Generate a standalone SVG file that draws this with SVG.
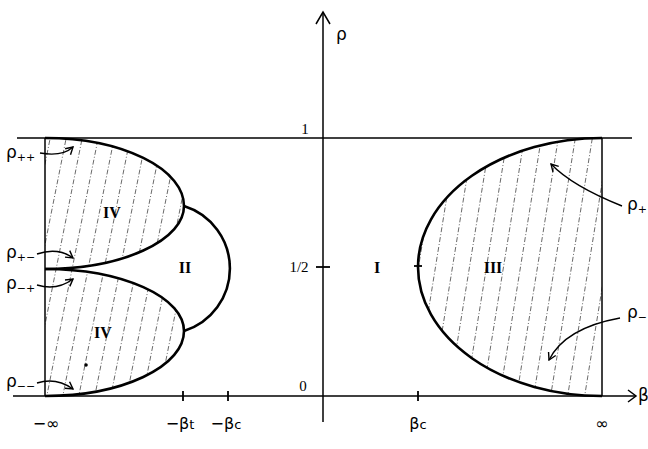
<svg xmlns="http://www.w3.org/2000/svg" width="648" height="449" viewBox="0 0 648 449">
<style>
.ax{stroke:#000;stroke-width:1.5;fill:none}
.cv{stroke:#000;stroke-width:2.6;fill:none}
.tk{stroke:#000;stroke-width:1.8}
.ht{stroke:#444;stroke-width:0.8;stroke-dasharray:5 2 1 2;fill:none}
.ar{stroke:#000;stroke-width:1.4;fill:none}
.rn{font-family:"Liberation Serif",serif;font-weight:bold;font-size:16px;text-anchor:middle}
.nm{font-family:"Liberation Serif",serif;font-size:15px;text-anchor:middle}
.gr{font-family:"DejaVu Sans",sans-serif;font-size:17px}
.sb{font-family:"DejaVu Sans",sans-serif;font-size:11px}
.bl{font-family:"DejaVu Sans",sans-serif;font-size:16px;text-anchor:middle}
</style>
<defs>
<marker id="oa" markerWidth="10" markerHeight="10" refX="9" refY="5" orient="auto" markerUnits="userSpaceOnUse">
<path d="M2,1 L9,5 L2,9" fill="none" stroke="#000" stroke-width="1.4"/>
</marker>
<clipPath id="clL">
<path d="M45,138 A139,68 0 0 1 184,206 A139,63 0 0 1 45,269 A139,62 0 0 1 184,331 A139,65 0 0 1 45,396 Z"/>
</clipPath>
<clipPath id="clR">
<path d="M602,138 A184,129 0 0 0 418,267 A184,129 0 0 0 602,396 Z"/>
</clipPath>
</defs>

<g id="hatching">
<g clip-path="url(#clL)" class="ht">
<line x1="-2" y1="400" x2="51" y2="134"/>
<line x1="14" y1="400" x2="67" y2="134"/>
<line x1="30" y1="400" x2="83" y2="134"/>
<line x1="46" y1="400" x2="99" y2="134"/>
<line x1="62" y1="400" x2="115" y2="134"/>
<line x1="78" y1="400" x2="131" y2="134"/>
<line x1="94" y1="400" x2="147" y2="134"/>
<line x1="110" y1="400" x2="163" y2="134"/>
<line x1="126" y1="400" x2="179" y2="134"/>
<line x1="142" y1="400" x2="195" y2="134"/>
<line x1="158" y1="400" x2="211" y2="134"/>
<line x1="174" y1="400" x2="227" y2="134"/>
</g>
<g clip-path="url(#clR)" class="ht">
<line x1="380" y1="400" x2="423" y2="134"/>
<line x1="397" y1="400" x2="440" y2="134"/>
<line x1="414" y1="400" x2="457" y2="134"/>
<line x1="431" y1="400" x2="474" y2="134"/>
<line x1="448" y1="400" x2="491" y2="134"/>
<line x1="465" y1="400" x2="508" y2="134"/>
<line x1="482" y1="400" x2="525" y2="134"/>
<line x1="499" y1="400" x2="542" y2="134"/>
<line x1="516" y1="400" x2="559" y2="134"/>
<line x1="533" y1="400" x2="576" y2="134"/>
<line x1="550" y1="400" x2="593" y2="134"/>
<line x1="567" y1="400" x2="610" y2="134"/>
<line x1="584" y1="400" x2="627" y2="134"/>
</g>
</g>

<g id="axes">
<line class="ax" x1="13" y1="396" x2="636" y2="396"/>
<path class="ax" d="M628,390 L636,396 L628,402"/>
<line class="ax" x1="323" y1="12" x2="323" y2="422"/>
<path class="ax" d="M316,24 L323,12 L330,24"/>
<line class="ax" x1="17" y1="138" x2="632" y2="138"/>
<line class="ax" x1="45" y1="138" x2="45" y2="396"/>
<line class="ax" x1="602" y1="138" x2="602" y2="396"/>
<line class="tk" x1="316" y1="267" x2="330" y2="267"/>
<line class="tk" x1="183" y1="391" x2="183" y2="401"/>
<line class="tk" x1="228" y1="391" x2="228" y2="401"/>
<line class="tk" x1="418" y1="391" x2="418" y2="401"/>
<line class="tk" x1="230" y1="263" x2="230" y2="271"/>
<line class="tk" x1="414" y1="266" x2="422" y2="266"/>
</g>

<g id="curves">
<path class="cv" d="M45,138 A139,68 0 0 1 184,206 A139,63 0 0 1 45,269"/>
<path class="cv" d="M45,269 A139,62 0 0 1 184,331 A139,65 0 0 1 45,396"/>
<path class="cv" d="M184,206 A65.5,65.5 0 0 1 184,331"/>
<path class="cv" d="M602,138 A184,129 0 0 0 418,267 A184,129 0 0 0 602,396"/>
<circle cx="86" cy="365" r="1.8" fill="#000"/>
</g>

<g id="connectors">
<path class="ar" marker-end="url(#oa)" d="M40,153 Q62,157 73,147"/>
<path class="ar" marker-end="url(#oa)" d="M37,254 Q58,247 73,258"/>
<path class="ar" marker-end="url(#oa)" d="M37,285 Q57,291 73,279"/>
<path class="ar" marker-end="url(#oa)" d="M37,383 Q56,377 73,389"/>
<path class="ar" marker-end="url(#oa)" d="M622,206 Q572,186 551,164"/>
<path class="ar" marker-end="url(#oa)" d="M620,318 Q565,328 549,360"/>
</g>

<g id="labels">
<text class="gr" x="336" y="40">ρ</text>
<text class="gr" x="638" y="401" font-size="13">β</text>
<text class="nm" x="305" y="134">1</text>
<text class="nm" x="299" y="272">1/2</text>
<text class="nm" x="303" y="391">0</text>
<text class="rn" x="112" y="218">IV</text>
<text class="rn" x="103" y="338">IV</text>
<text class="rn" x="185" y="273">II</text>
<text class="rn" x="377" y="273">I</text>
<text class="rn" x="493" y="273">III</text>
<text class="gr" x="6" y="158">ρ<tspan class="sb" dy="3">++</tspan></text>
<text class="gr" x="6" y="258">ρ<tspan class="sb" dy="3">+−</tspan></text>
<text class="gr" x="6" y="289">ρ<tspan class="sb" dy="3">−+</tspan></text>
<text class="gr" x="6" y="387">ρ<tspan class="sb" dy="3">−−</tspan></text>
<text class="gr" x="627" y="210">ρ<tspan class="sb" dy="3">+</tspan></text>
<text class="gr" x="627" y="318">ρ<tspan class="sb" dy="3">−</tspan></text>
<text class="bl" x="46" y="429">−∞</text>
<text class="bl" x="180" y="429">−β<tspan font-size="13">t</tspan></text>
<text class="bl" x="226" y="429">−β<tspan font-size="13">c</tspan></text>
<text class="bl" x="418" y="429">β<tspan font-size="13">c</tspan></text>
<text class="bl" x="602" y="429">∞</text>
</g>
</svg>
